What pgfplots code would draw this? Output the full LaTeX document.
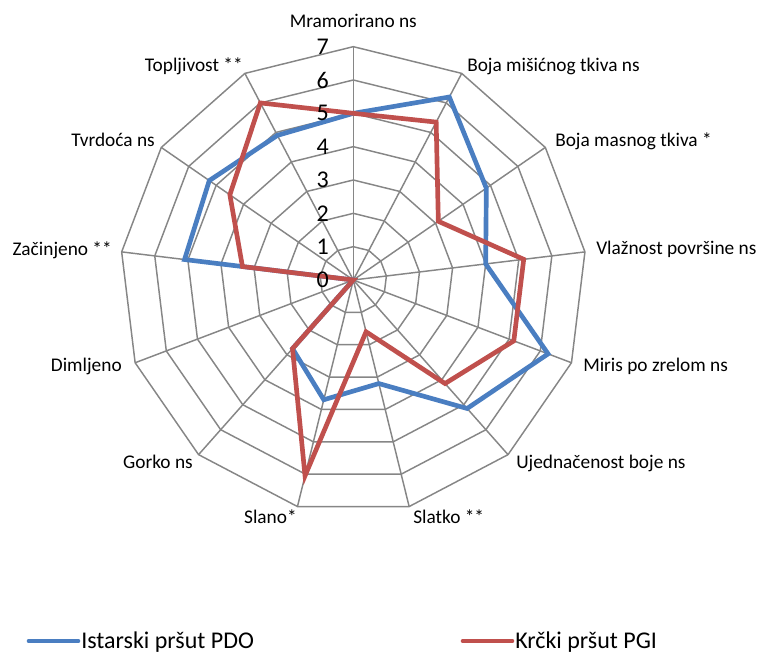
\documentclass[border=0pt]{standalone}
\usepackage{pgfplots}
\pgfplotsset{compat=1.18}
\usepgfplotslibrary{polar}
\usepackage{pgfplotstable}
\usepackage{fontspec}
\setmainfont{Carlito}
\definecolor{sblue}{RGB}{74,126,193}
\definecolor{sred}{RGB}{192,80,77}
\definecolor{gridc}{RGB}{134,134,134}

\pgfplotstableread{
angle istra
90     5.0
62.31  6.2
34.62  4.85
6.92   4.0
339.23 6.25
311.54 5.15
283.85 3.2
256.15 3.7
228.46 2.75
200.77 0
173.08 5.1
145.38 5.25
117.69 4.9
90     5.0
}\istra
\pgfplotstableread{
angle krk
90     5.0
62.31  5.35
34.62  3.1
6.92   5.15
339.23 5.15
311.54 4.15
283.85 1.6
256.15 6.05
228.46 2.75
200.77 0
173.08 3.35
145.38 4.5
117.69 6.0
90     5.0
}\krk

\begin{document}
\begin{tikzpicture}[x=0.75pt,y=-0.75pt]
\begin{polaraxis}[
  scale only axis, width=350pt, height=350pt,
  ymin=0, ymax=7, xmin=0, xmax=360,
  hide axis, clip=false,
]
\pgfplotsinvokeforeach{1,2,3,4,5,6,7}{
  \draw[gridc, line width=1.1pt] (axis cs:90,#1) -- (axis cs:62.31,#1) -- (axis cs:34.62,#1) -- (axis cs:6.92,#1) -- (axis cs:339.23,#1) -- (axis cs:311.54,#1) -- (axis cs:283.85,#1) -- (axis cs:256.15,#1) -- (axis cs:228.46,#1) -- (axis cs:200.77,#1) -- (axis cs:173.08,#1) -- (axis cs:145.38,#1) -- (axis cs:117.69,#1) -- cycle;
}
\pgfplotsinvokeforeach{90,62.31,34.62,6.92,339.23,311.54,283.85,256.15,228.46,200.77,173.08,145.38,117.69}{
  \draw[gridc, line width=1.1pt] (axis cs:0,0) -- (axis cs:#1,7);
}
\addplot[sblue, line width=3.5pt, no marks] table[x=angle, y=istra] {\istra};
\addplot[sred, line width=3.5pt, no marks] table[x=angle, y=krk] {\krk};
\coordinate (C) at (axis cs:0,0);
\end{polaraxis}
\path (C) ++(-353.3,-280) coordinate (O);
\begin{scope}[shift={(O)}]
\begin{scope}[every node/.style={inner sep=0pt, font=\fontsize{14.5}{16}\selectfont}]
\node[anchor=base] at (353.3,28) {Mramorirano ns};
\node[anchor=base west] at (467,72) {Boja mišićnog tkiva ns};
\node[anchor=base west] at (555,147) {Boja masnog tkiva *};
\node[anchor=base west] at (596,255) {Vlažnost površine ns};
\node[anchor=base west] at (583,371) {Miris po zrelom ns};
\node[anchor=base west] at (516,468) {Ujednačenost boje ns};
\node[anchor=base west] at (413,523) {Slatko **};
\node[anchor=base east] at (297,523) {Slano*};
\node[anchor=base east] at (193,468) {Gorko ns};
\node[anchor=base east] at (122,371) {Dimljeno};
\node[anchor=base east] at (112,256) {Začinjeno **};
\node[anchor=base east] at (155,147) {Tvrdoća ns};
\node[anchor=base east] at (243,72) {Topljivost **};
\end{scope}
\begin{scope}[every node/.style={inner sep=0pt, anchor=east, font=\fontsize{18}{20}\selectfont}]
\node at (329,280) {0};
\node at (329,246.67) {1};
\node at (329,213.33) {2};
\node at (329,180) {3};
\node at (329,146.67) {4};
\node at (329,113.33) {5};
\node at (329,80) {6};
\node at (329,46.67) {7};
\end{scope}
\draw[sblue, line width=3.5pt, line cap=round] (29,641) -- (78,641);
\node[anchor=base west, inner sep=0pt, font=\fontsize{18}{20}\selectfont] at (81,648) {Istarski pršut PDO};
\draw[sred, line width=3.5pt, line cap=round] (463,641) -- (512,641);
\node[anchor=base west, inner sep=0pt, font=\fontsize{18}{20}\selectfont] at (515,648) {Krčki pršut PGI};
\pgfresetboundingbox
\path[use as bounding box] (0,0) rectangle (762,653);
\end{scope}
\end{tikzpicture}
\end{document}
